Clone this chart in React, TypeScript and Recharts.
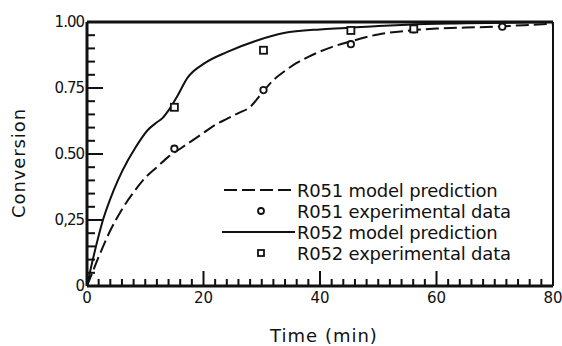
import React from "react";
import {
  ComposedChart,
  Line,
  Scatter,
  XAxis,
  YAxis,
  ReferenceLine,
  Label,
} from "recharts";

// R051 model prediction (dashed)
const r051ModelTime = [0, 1, 2, 4, 6, 8, 10, 12, 14, 16, 18, 20, 22, 24, 26, 28, 30, 32, 34, 36, 38, 40, 42, 45, 50, 55, 60, 65, 70, 75, 80];
const r051ModelConv = [0, 0.055, 0.11, 0.21, 0.29, 0.355, 0.41, 0.45, 0.49, 0.52, 0.55, 0.58, 0.61, 0.633, 0.655, 0.678, 0.73, 0.78, 0.815, 0.845, 0.868, 0.888, 0.905, 0.925, 0.953, 0.967, 0.975, 0.979, 0.982, 0.988, 0.993];

// R052 model prediction (solid)
const r052ModelTime = [0, 1, 2, 2.7, 4, 5.3, 7, 8.2, 10.4, 12, 13, 14, 15.4, 17.3, 20.2, 24, 29.2, 33.8, 40, 44.4, 50, 55, 65, 80];
const r052ModelConv = [0, 0.1, 0.19, 0.247, 0.33, 0.4, 0.475, 0.52, 0.59, 0.62, 0.637, 0.665, 0.715, 0.79, 0.844, 0.886, 0.93, 0.958, 0.972, 0.977, 0.985, 0.99, 0.995, 1.0];

// Experimental points
const r051ExpTime = [15, 30.3, 45.3, 56.1, 71.3];
const r051ExpConv = [0.52, 0.742, 0.916, 0.972, 0.982];
const r052ExpTime = [15, 30.3, 45.3, 56.1];
const r052ExpConv = [0.677, 0.893, 0.968, 0.974];

const xMajorTicks = [0, 20, 40, 60, 80];
const xTickLabels = ["0", "20", "40", "60", "80"];
const xInnerTicks = [2, 4, 6, 8, 10, 12, 14, 16, 18, 20, 22, 24, 26, 28, 30, 32, 34, 36, 38, 40, 42, 44, 46, 48, 50, 52, 54, 56, 58, 60, 62, 64, 66, 68, 70, 72, 74, 76, 78];

const yMajorTicks = [0, 0.25, 0.5, 0.75, 1];
const yTickLabels = ["0", "0,25", "0.50", "0.75", "1.00"];
const yInnerTicks = [0.05, 0.1, 0.15, 0.2, 0.25, 0.3, 0.35, 0.4, 0.45, 0.5, 0.55, 0.6, 0.65, 0.7, 0.75, 0.8, 0.85, 0.9, 0.95];

const legendLabels = [
  "R051 model prediction",
  "R051 experimental data",
  "R052 model prediction",
  "R052 experimental data",
];

const zip = (ts: number[], cs: number[]) => ts.map((t, i) => ({ t, c: cs[i] }));
const r051Model = zip(r051ModelTime, r051ModelConv);
const r052Model = zip(r052ModelTime, r052ModelConv);
const r051Exp = zip(r051ExpTime, r051ExpConv);
const r052Exp = zip(r052ExpTime, r052ExpConv);

// Tick mark anchors: along the time axis (c = 0) and along the conversion axis (t = 0)
const xTickMarks = xInnerTicks.map((t) => ({ t, c: 0 }));
const yTickMarks = yInnerTicks.map((c) => ({ t: 0, c }));

const FONT = "'DejaVu Sans', sans-serif";
const INK = "#111";

const isMajor = (v: number, majors: number[]) => majors.some((m) => Math.abs(m - v) < 1e-6);

// Inward tick on the bottom axis, drawn as a thin filled bar
const XTickMark = (props: any) => {
  const t = props.payload ? props.payload.t : props.t;
  const len = isMajor(t, xMajorTicks) ? 15 : 7;
  return <rect x={props.cx - 1} y={props.cy - len} width={2} height={len} fill={INK} />;
};

// Inward tick on the left axis
const YTickMark = (props: any) => {
  const c = props.payload ? props.payload.c : props.c;
  const len = isMajor(c, yMajorTicks) ? 16 : 8;
  return <rect x={props.cx} y={props.cy - 1} width={len} height={2} fill={INK} />;
};

const XTickLabel = (props: any) => {
  const { x, y, payload } = props;
  const idx = xMajorTicks.findIndex((m) => Math.abs(m - payload.value) < 1e-6);
  return (
    <text x={x} y={y + 17} textAnchor="middle" fontFamily={FONT} fontSize={15} fill={INK}>
      {xTickLabels[idx]}
    </text>
  );
};

const YTickLabel = (props: any) => {
  const { x, y, payload } = props;
  const idx = yMajorTicks.findIndex((m) => Math.abs(m - payload.value) < 1e-6);
  return (
    <text x={x - 3} y={y + 5} textAnchor="end" fontFamily={FONT} fontSize={15} fill={INK} letterSpacing={-1}>
      {yTickLabels[idx]}
    </text>
  );
};

const CircleMark = (props: any) => (
  <circle cx={props.cx} cy={props.cy} r={3.2} fill="#fff" stroke={INK} strokeWidth={1.8} />
);
const SquareMark = (props: any) => (
  <rect x={props.cx - 3.5} y={props.cy - 3.5} width={7} height={7} fill="#fff" stroke={INK} strokeWidth={1.8} />
);

const LegendBox = () => {
  const rowH = 21;
  return (
    <svg width={330} height={rowH * 4 + 4} style={{ position: "absolute", left: 224, top: 180, overflow: "visible" }}>
      {legendLabels.map((label, i) => {
        const cy = i * rowH + 10;
        let sym: React.ReactNode = null;
        if (i === 0)
          sym = <line x1={0} y1={cy} x2={70} y2={cy} stroke={INK} strokeWidth={2} strokeDasharray="13 5" />;
        if (i === 1) sym = <circle cx={37} cy={cy} r={3} fill="#fff" stroke={INK} strokeWidth={1.8} />;
        if (i === 2) sym = <line x1={-2} y1={cy} x2={71} y2={cy} stroke={INK} strokeWidth={2} />;
        if (i === 3) sym = <rect x={34} y={cy - 3} width={6} height={6} fill="#fff" stroke={INK} strokeWidth={1.8} />;
        return (
          <g key={label}>
            {sym}
            <text x={73} y={cy + 6.5} fontFamily={FONT} fontSize={18} fill={INK} letterSpacing={-0.2}>
              {label}
            </text>
          </g>
        );
      })}
    </svg>
  );
};

const TimeTitle = (props: any) => {
  const vb = props.viewBox;
  return (
    <text x={vb.x + vb.width / 2 + 4} y={vb.y + 56} textAnchor="middle" fontFamily={FONT} fontSize={18} letterSpacing={1} fill={INK}>
      Time (min)
    </text>
  );
};

const ConversionTitle = (props: any) => {
  const vb = props.viewBox;
  const cx = 25;
  const cy = vb.y + vb.height / 2 + 9;
  return (
    <text x={cx} y={cy} transform={`rotate(-90 ${cx} ${cy})`} textAnchor="middle" fontFamily={FONT} fontSize={18} letterSpacing={0.9} fill={INK}>
      Conversion
    </text>
  );
};

export default function App() {
  return (
    <div style={{ position: "absolute", left: 0, top: 0, width: 562, height: 346, background: "#fff" }}>
      <ComposedChart
        width={562}
        height={346}
        margin={{ top: 22, right: 9, bottom: 30, left: 47 }}
      >
        <XAxis
          dataKey="t"
          type="number"
          domain={[0, 80]}
          ticks={xMajorTicks}
          interval={0}
          tickSize={0}
          tickMargin={0}
          tickLine={false}
          axisLine={{ stroke: INK, strokeWidth: 3 }}
          tick={<XTickLabel />}
          height={30}
        >
          <Label content={<TimeTitle />} />
        </XAxis>
        <YAxis
          dataKey="c"
          type="number"
          domain={[0, 1]}
          ticks={yMajorTicks}
          interval={0}
          tickSize={0}
          tickMargin={0}
          tickLine={false}
          axisLine={{ stroke: INK, strokeWidth: 3 }}
          tick={<YTickLabel />}
          width={40}
        >
          <Label content={<ConversionTitle />} />
        </YAxis>
        <ReferenceLine y={1} stroke={INK} strokeWidth={3} />
        <ReferenceLine x={80} stroke={INK} strokeWidth={2} />
        <Scatter data={xTickMarks} dataKey="c" shape={<XTickMark />} isAnimationActive={false} />
        <Scatter data={yTickMarks} dataKey="c" shape={<YTickMark />} isAnimationActive={false} />
        <Line
          data={r051Model}
          dataKey="c"
          type="monotone"
          stroke={INK}
          strokeWidth={2}
          strokeDasharray="13 5"
          dot={false}
          activeDot={false}
          isAnimationActive={false}
        />
        <Line
          data={r052Model}
          dataKey="c"
          type="monotone"
          stroke={INK}
          strokeWidth={2}
          dot={false}
          activeDot={false}
          isAnimationActive={false}
        />
        <Scatter data={r051Exp} dataKey="c" shape={<CircleMark />} isAnimationActive={false} />
        <Scatter data={r052Exp} dataKey="c" shape={<SquareMark />} isAnimationActive={false} />
      </ComposedChart>
      <LegendBox />
    </div>
  );
}
